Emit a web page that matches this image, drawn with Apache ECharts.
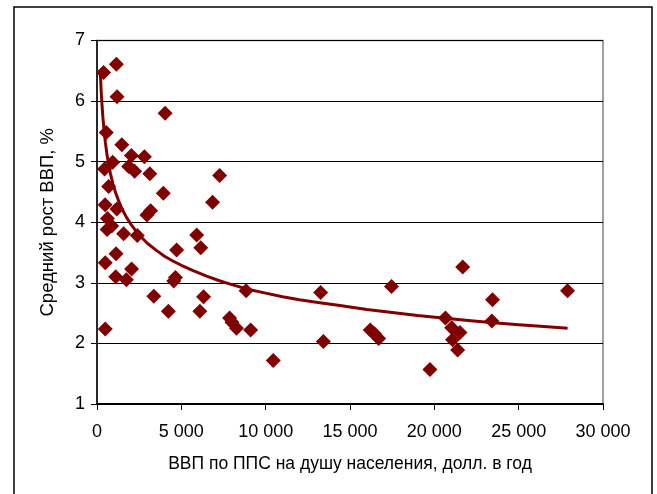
<!DOCTYPE html>
<html>
<head>
<meta charset="utf-8">
<script src="https://cdn.jsdelivr.net/npm/echarts@6/dist/echarts.min.js"></script>
<style>
html,body{margin:0;padding:0;background:#fff;}
#chart{width:657px;height:494px;}
</style>
</head>
<body>
<div id="chart"></div>
<script>
// GDP per capita (PPP, USD/year) and average GDP growth (%) per country
const gdpPerCapita = [390,1150,1190,4040,550,1470,2040,2810,930,450,1880,2230,3130,7270,690,3930,6850,480,1180,3180,2960,620,600,870,1580,2390,5910,6150,4720,1130,490,2050,1110,1740,4650,4550,3370,6320,4230,6100,7860,8000,8270,9110,490,8840,10450,13260,13420,16200,16450,16700,17460,19740,20660,21030,21520,21080,21380,21680,23450,23410,27900];
const avgGrowth    = [6.47,6.61,6.07,5.80,5.48,5.28,5.10,5.08,4.99,4.88,4.92,4.84,4.80,4.77,4.59,4.48,4.33,4.29,4.22,4.19,4.12,4.06,3.88,3.94,3.81,3.78,3.79,3.58,3.54,3.48,3.33,3.23,3.10,3.05,3.09,3.03,2.78,2.77,2.53,2.53,2.42,2.35,2.25,2.22,2.24,2.87,1.72,2.84,2.03,2.22,2.16,2.08,2.94,1.57,2.42,2.26,2.18,2.06,1.89,3.26,2.72,2.37,2.87];
// trend line
const trendX = [200,250,300,350,420,500,600,700,800,950,1100,1300,1500,1750,2000,2300,2600,3000,3500,4000,4500,5000,5700,6500,7300,8000,9000,10000,11000,12000,13000,14500,16000,17500,19000,20500,22000,23500,25000,26500,27900];
const trendY = [6.46,6.15,5.92,5.73,5.51,5.31,5.10,4.94,4.80,4.63,4.49,4.34,4.21,4.08,3.97,3.86,3.76,3.65,3.54,3.44,3.36,3.29,3.20,3.11,3.03,2.97,2.89,2.83,2.77,2.72,2.68,2.62,2.56,2.51,2.46,2.42,2.38,2.34,2.31,2.28,2.25];
const xTicks = ['0','5 000','10 000','15 000','20 000','25 000','30 000'];
const yTicks = ['1','2','3','4','5','6','7'];

const points = gdpPerCapita.map((x,i)=>[x,avgGrowth[i]]);
const trend = trendX.map((x,i)=>[x,trendY[i]]);
const FONT = 'Liberation Sans, Arial, sans-serif';

const chart = echarts.init(document.getElementById('chart'), null, {renderer:'canvas'});
chart.setOption({
  backgroundColor:'#fff',
  animation:false,
  graphic:[{
    type:'rect', silent:true, z:-1,
    shape:{x:14,y:7,width:638,height:520},
    style:{fill:'none',stroke:'#000',lineWidth:1.5}
  },{
    type:'rect', silent:true, z:-1,
    shape:{x:97,y:40.5,width:506,height:363.5},
    style:{fill:'none',stroke:'#808080',lineWidth:1.5}
  }],
  grid:{left:97,right:54,top:40.5,bottom:90,containLabel:false},
  xAxis:{
    type:'value',min:0,max:30000,interval:5000,
    name:'ВВП по ППС на душу населения, долл. в год',
    nameLocation:'middle',nameGap:51,
    nameTextStyle:{fontFamily:FONT,fontSize:17.5,color:'#000'},
    axisLine:{show:true,lineStyle:{color:'#000',width:2}},
    axisTick:{show:true,length:6,inside:false,lineStyle:{color:'#000',width:1}},
    axisLabel:{fontFamily:FONT,fontSize:18,color:'#000',margin:19,
      formatter:(v)=>xTicks[Math.round(v/5000)]},
    splitLine:{show:false}
  },
  yAxis:{
    type:'value',min:1,max:7,interval:1,
    name:'Средний рост ВВП, %',
    nameLocation:'middle',nameGap:40,
    nameTextStyle:{fontFamily:FONT,fontSize:18.5,color:'#000'},
    axisLine:{show:true,lineStyle:{color:'#000',width:1.5}},
    axisTick:{show:true,length:6,inside:false,lineStyle:{color:'#000',width:1}},
    axisLabel:{fontFamily:FONT,fontSize:18,color:'#000',margin:12,
      formatter:(v)=>yTicks[Math.round(v)-1]},
    splitLine:{show:true,lineStyle:{color:'#000',width:1}}
  },
  series:[{
    type:'scatter',
    data:points,
    symbol:'diamond',
    symbolSize:15,
    itemStyle:{color:'#800000',opacity:1},
    z:3
  },{
    type:'line',
    data:trend,
    smooth:false,
    showSymbol:false,
    lineStyle:{color:'#800000',width:3},
    z:4
  }]
});
</script>
</body>
</html>
